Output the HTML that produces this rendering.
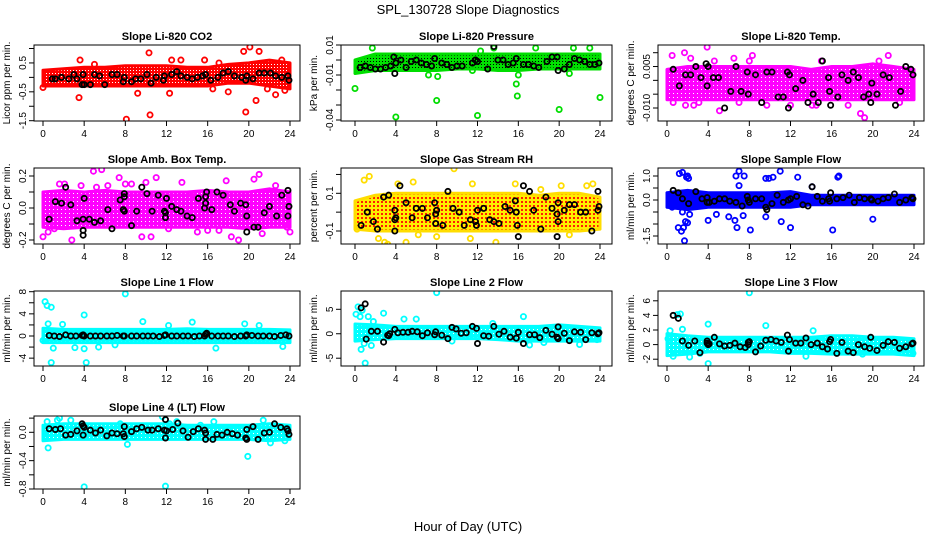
<!DOCTYPE html>
<html><head><meta charset="utf-8"><title>SPL_130728 Slope Diagnostics</title>
<style>
html,body{margin:0;padding:0;background:#fff;}
svg{display:block;font-family:"Liberation Sans",Arial,sans-serif;}
</style></head>
<body>
<svg id="chart" width="936" height="540" viewBox="0 0 936 540" xmlns="http://www.w3.org/2000/svg">
<defs>
<pattern id="pat-red" width="3" height="3" patternUnits="userSpaceOnUse"><rect width="3" height="3" fill="#ff0000"/><rect x="1" y="1" width="1" height="1" fill="#ffffff"/></pattern>
<pattern id="pat-green" width="3" height="3" patternUnits="userSpaceOnUse"><rect width="3" height="3" fill="#00e000"/><rect x="1" y="1" width="1" height="1" fill="#000000"/></pattern>
<pattern id="pat-magenta" width="4" height="4" patternUnits="userSpaceOnUse"><rect width="4" height="4" fill="#ff00ff"/><rect x="1" y="1" width="1" height="1" fill="#ffffff"/></pattern>
<pattern id="pat-yellow" width="4" height="4" patternUnits="userSpaceOnUse"><rect width="4" height="4" fill="#ffee00"/><rect x="1" y="1" width="2" height="2" fill="#ff2000"/></pattern>
<pattern id="pat-blue" width="4" height="4" patternUnits="userSpaceOnUse"><rect width="4" height="4" fill="#0000ff"/></pattern>
<pattern id="pat-cyan" width="4" height="4" patternUnits="userSpaceOnUse"><rect width="4" height="4" fill="#00ffff"/><rect x="1" y="1" width="1" height="1" fill="#ffffff"/></pattern>
</defs>
<text x="468" y="14" font-size="13" text-anchor="middle">SPL_130728  Slope Diagnostics</text>
<text x="468" y="531" font-size="13" text-anchor="middle">Hour of Day (UTC)</text>
</svg>
<script>
// ---- data (hours of day vs slope values) ----
const xTicks = [0,4,8,12,16,20,24];
const bandHours = [0,2,4,6,8,10,12,14,16,18,20,22,24];

const co2Lo = [-0.3,-0.3,-0.3,-0.3,-0.3,-0.3,-0.3,-0.3,-0.3,-0.2,-0.2,-0.3,-0.4];
const co2Hi = [0.25,0.3,0.35,0.35,0.4,0.4,0.4,0.35,0.35,0.45,0.5,0.6,0.5];
const co2OutX = [3.5,3.6,8.1,10.4,10.3,9.2,12.5,12.3,15.7,17.1,18,19.5,19.7,20.1,20.7,21,21.8,22.6,23.5,13.4,5,0,23.2,16.5];
const co2OutY = [-0.7,0.6,-1.45,-1.3,0.85,-0.55,0.6,-0.55,0.6,0.5,-0.5,0.9,-1.2,1.05,-0.8,0.9,-0.4,-0.6,-0.45,0.6,0.45,-0.35,0.6,-0.4];
const co2BlkX = [0.9,1.2,1.8,2.5,3.0,3.3,3.8,3.9,4.0,4.6,5.0,5.5,6.0,6.7,7.2,7.8,7.9,8.6,9.0,9.5,10.1,10.5,11.0,11.7,11.8,12.5,13.0,13.4,14.0,14.5,15.0,15.5,15.8,16.3,17.0,17.5,18.0,18.6,19.3,19.7,19.8,20.4,21.0,21.5,22.1,22.6,23.2,23.8,23.9];
const co2BlkY = [-0.05,-0.05,0.0,-0.05,0.1,-0.05,-0.25,0.1,-0.25,-0.25,0.1,0.05,-0.25,0.1,0.1,-0.15,0.0,-0.15,-0.05,-0.05,0.1,-0.2,0.0,-0.1,0.05,0.1,0.2,0.05,0.0,-0.05,0.0,0.05,0.1,-0.1,0.0,0.15,0.2,0.05,0.0,-0.1,0.05,-0.05,0.15,0.15,0.15,0.05,0.0,0.05,-0.1];

const presLo = [-0.009,-0.007,-0.007,-0.007,-0.007,-0.006,-0.006,-0.007,-0.007,-0.006,-0.006,-0.006,-0.006];
const presHi = [0.0,0.004,0.004,0.004,0.004,0.004,0.004,0.004,0.004,0.004,0.004,0.004,0.004];
const presOutX = [0,4,8,12,15.9,15.8,16,20,24,1.7,13.6,17.7,21.4,23,7.2,8.1,21,11.5,12.3];
const presOutY = [-0.019,-0.038,-0.027,-0.037,-0.024,-0.016,-0.01,-0.033,-0.025,0.008,0.008,0.008,0.008,0.008,-0.01,-0.011,-0.009,-0.007,0.006];
const presBlkX = [0.5,1.0,1.5,2.0,2.5,3.0,3.5,3.8,3.9,4.0,4.5,5.0,5.5,6.0,6.5,7.0,7.5,7.8,8.5,9.0,9.5,10.0,10.5,11.5,11.8,12.0,13.0,13.6,14.0,14.5,15.0,15.5,15.8,16.5,17.0,17.5,18.0,18.8,19.3,19.8,19.9,20.5,21.0,21.5,22.0,22.5,23.0,23.5,23.9];
const presBlkY = [-0.005,-0.004,-0.005,-0.006,-0.006,-0.005,-0.004,0.002,-0.009,-0.002,0.0,-0.005,-0.001,0.0,-0.002,-0.003,-0.004,0.001,-0.002,-0.003,-0.005,-0.004,-0.004,-0.002,0.0,-0.001,-0.006,0.009,0.0,0.0,-0.003,-0.002,0.001,-0.003,-0.003,-0.004,-0.005,-0.001,0.002,0.002,-0.007,-0.006,-0.003,0.001,0.0,-0.001,-0.003,-0.003,-0.002];

const tempLo = [-0.007,-0.007,-0.007,-0.007,-0.007,-0.007,-0.007,-0.007,-0.007,-0.007,-0.007,-0.007,-0.007];
const tempHi = [0.004,0.005,0.005,0.005,0.005,0.005,0.005,0.004,0.005,0.005,0.006,0.005,0.004];
const tempOutX = [0.5,1.7,2.3,3.9,4.6,6.5,8.3,8.0,15,21.5,20.6,1.8,2.6,5.1,9.7,14.1,14.5,17.6,18.8,19.2,0.6,3.1,22.6,12.0,7.0];
const tempOutY = [0.009,0.010,0.008,0.012,0.007,0.008,0.009,0.007,0.007,0.009,0.007,-0.009,-0.009,-0.011,-0.009,-0.009,-0.009,-0.009,-0.012,-0.0135,-0.008,-0.008,-0.008,-0.009,-0.008];
const tempBlkX = [0.6,1.2,1.8,2.3,2.8,3.3,3.8,3.9,4.0,4.5,5.0,5.6,6.2,6.7,7.2,7.8,7.9,8.6,9.2,9.7,10.2,10.8,11.3,11.7,11.8,11.9,12.5,13.2,13.7,14.2,14.7,15.1,15.7,15.8,15.9,16.6,17.0,17.6,18.1,18.6,19.1,19.6,19.8,19.9,20.4,21.0,21.6,22.2,22.7,23.2,23.7,23.9];
const tempBlkY = [0.004,-0.002,0.002,0.002,0.005,0.001,0.006,-0.002,0.005,0.001,0.001,-0.010,-0.004,0.005,-0.004,0.003,-0.005,0.002,-0.008,0.003,0.003,-0.006,-0.006,0.003,-0.010,0.002,-0.003,0.0,-0.008,-0.005,-0.008,0.007,0.001,-0.004,-0.009,-0.006,0.002,0.0,0.003,0.001,-0.006,-0.005,-0.008,-0.001,-0.005,0.002,0.001,-0.009,-0.004,0.005,0.004,0.002];

const ambLo = [-0.12,-0.13,-0.12,-0.12,-0.12,-0.12,-0.12,-0.12,-0.12,-0.12,-0.13,-0.12,-0.12];
const ambHi = [0.1,0.11,0.1,0.11,0.1,0.1,0.1,0.1,0.11,0.1,0.1,0.12,0.1];
const ambOutX = [0,0.5,1.1,1.6,2.1,2.8,3.7,4.9,5.2,5.7,6.3,7.4,8.0,8.6,9.6,10.0,10.5,11.0,12.2,13.5,15.0,16.0,17.1,17.8,18.3,19.0,21.0,21.3,22.6,23.7,24,14.5,6.8,20.5];
const ambOutY = [-0.18,-0.15,-0.13,0.15,0.15,-0.2,0.14,0.23,0.13,0.24,0.14,0.19,0.15,0.15,-0.18,0.16,-0.18,0.19,-0.13,0.16,-0.15,-0.14,-0.14,0.17,-0.18,-0.2,0.21,-0.16,0.14,-0.12,-0.15,0.08,-0.1,0.18];
const ambBlkX = [2.2,0.6,1.2,1.8,2.7,3.3,3.9,3.9,4.0,3.9,4.5,5.0,5.6,6.3,6.7,7.5,7.9,7.9,7.8,7.9,8.6,9.1,9.6,10.1,10.6,11.2,11.8,11.9,12.0,11.9,12.5,13.0,13.4,14.0,14.5,15.1,15.7,15.8,15.9,15.8,16.4,16.9,17.5,18.2,18.6,19.2,19.7,19.8,19.8,20.5,20.9,21.5,22.0,22.7,23.2,23.8,23.9,23.8];
const ambBlkY = [0.13,-0.07,0.04,0.03,0.02,-0.08,-0.14,-0.17,0.06,-0.07,-0.07,-0.09,-0.08,-0.01,-0.13,0.05,0.09,0.07,-0.01,-0.02,-0.11,-0.02,0.13,0.09,-0.02,0.08,-0.02,-0.03,0.06,-0.06,0.01,-0.01,-0.02,-0.05,-0.06,0.06,0.0,0.03,0.1,0.07,-0.01,0.1,0.08,0.02,-0.02,0.03,0.02,-0.05,-0.15,-0.12,-0.12,-0.03,0.01,-0.05,0.08,0.11,0.01,-0.05];

const rhLo = [-0.09,-0.1,-0.1,-0.1,-0.1,-0.1,-0.1,-0.1,-0.1,-0.1,-0.1,-0.1,-0.09];
const rhHi = [0.06,0.09,0.1,0.1,0.1,0.1,0.1,0.1,0.1,0.09,0.1,0.1,0.08];
const rhOutX = [0.9,1.4,2.9,3.2,4.2,5.0,5.7,6.2,8.0,9.7,11.3,11.5,13.8,15.7,18.2,20.2,22.7,23.3,2.3,21.0,0.2];
const rhOutY = [0.17,0.19,-0.16,-0.17,0.15,-0.16,0.16,-0.12,-0.13,0.23,-0.14,0.15,-0.16,0.15,0.12,0.14,0.14,0.15,-0.14,-0.12,-0.09];
const rhBlkX = [0.6,1.2,1.8,2.2,2.8,3.3,3.9,3.9,4.0,3.9,4.4,5.0,5.6,6.0,6.6,7.1,7.8,7.9,8.0,7.9,8.6,9.1,9.6,10.2,10.7,11.3,11.8,11.9,12.0,12.6,13.2,13.6,14.1,14.7,15.2,15.7,15.8,15.9,16.0,16.5,17.1,17.5,18.2,18.7,19.3,19.8,19.9,19.9,19.8,20.5,21.0,21.5,22.1,22.6,23.2,23.8,23.9,23.8];
const rhBlkY = [-0.07,0.0,-0.05,-0.09,0.08,0.09,-0.1,-0.04,-0.03,0.01,0.14,0.05,-0.03,0.02,0.02,-0.03,0.05,-0.01,0.01,-0.06,-0.07,0.11,0.02,0.0,-0.07,-0.04,-0.05,-0.07,0.01,0.02,-0.04,-0.05,-0.06,0.03,0.01,0.06,0.0,-0.07,-0.13,0.14,0.11,0.01,-0.09,0.08,0.02,-0.01,0.05,-0.05,-0.13,0.01,0.04,0.04,0.0,0.0,-0.1,0.11,0.03,0.01];

const flowLo = [-0.3,-0.4,-0.3,-0.3,-0.3,-0.3,-0.3,-0.2,-0.2,-0.2,-0.2,-0.2,-0.2];
const flowHi = [0.3,0.4,0.3,0.3,0.3,0.3,0.35,0.2,0.2,0.2,0.2,0.2,0.2];
const flowOutX = [1.2,1.5,1.9,2.0,2.1,1.1,1.4,1.6,1.7,1.8,2.0,1.5,2.2,4.0,4.8,6.0,6.6,6.8,7.0,6.7,7.5,7.4,8.1,9.6,9.9,10.3,11.0,11.1,9.6,12.0,12.7,16.1,16.6,16.7,20.0,7.0,14.1,0.5];
const flowOutY = [1.1,1.15,0.95,1.0,0.9,-1.15,-1.3,-1.15,-1.7,-0.9,-0.95,-0.5,-0.6,-0.85,-0.6,-0.7,-0.85,-1.15,1.2,1.0,1.0,-0.65,-1.25,0.9,0.9,0.95,1.2,-0.9,-0.7,-1.15,0.95,-1.25,0.95,1.0,-0.8,0.6,0.55,-0.3];
const flowBlkX = [0.6,1.1,1.5,2.1,2.8,3.4,3.9,3.9,4.1,4.6,5.1,5.6,6.1,6.7,7.3,7.8,7.9,8.0,8.6,9.2,9.6,9.7,10.2,10.7,11.3,11.8,12.0,12.6,13.2,13.7,14.1,14.6,15.1,15.7,15.9,15.8,16.5,17.1,17.7,18.2,18.7,19.2,19.8,19.9,20.5,21.0,21.5,22.1,22.6,23.2,23.8,23.9];
const flowBlkY = [0.4,0.3,0.05,-0.15,0.35,0.05,0.1,-0.1,-0.1,-0.05,0.05,0.05,-0.05,-0.1,-0.25,0.15,0.0,-0.1,0.05,0.05,-0.3,-0.4,-0.15,0.2,-0.1,0.0,0.05,0.15,-0.2,-0.25,0.55,0.15,-0.05,0.05,0.3,-0.05,0.05,0.1,0.2,-0.1,0.1,0.05,0.05,0.0,-0.05,0.05,0.1,0.25,-0.1,0.0,0.1,0.05];

const l1Lo = [-1.2,-1.2,-1.2,-1.2,-1.2,-1.2,-1.2,-1.2,-1.2,-1.2,-1.2,-1.2,-1.2];
const l1Hi = [1.4,1.2,1.2,1.2,1.2,1.2,1.2,1.3,1.2,1.2,1.2,1.2,1.1];
const l1OutX = [0.2,0.4,0.8,0.8,4.0,4.2,8.0,0.5,1.9,9.7,14.5,19.6,1.0,3.1,4.0,5.4,16.8,23.3,0.0,7.0,12.2,21.0];
const l1OutY = [6.2,5.5,5.2,-4.8,3.8,-4.8,7.6,2.2,2.1,2.6,2.5,2.2,-2.2,-2.1,-2.3,-2.0,-2.2,-1.9,-0.8,-1.6,1.9,1.9];
const l1BlkX = [0.6,1.1,1.6,2.2,2.7,3.2,3.8,3.9,4.0,4.6,5.1,5.6,6.2,6.7,7.2,7.8,7.9,8.6,9.1,9.7,10.2,10.7,11.3,11.8,11.9,12.5,13.0,13.6,14.1,14.7,15.2,15.7,15.8,15.9,16.4,17.0,17.5,18.0,18.6,19.2,19.7,19.8,20.3,20.9,21.4,22.0,22.5,23.1,23.6,23.9];
const l1BlkY = [0.1,0.0,-0.1,0.2,0.0,0.0,0.1,0.2,0.0,0.0,0.0,0.0,0.0,0.0,0.1,0.0,0.0,0.0,0.0,0.0,0.0,0.0,-0.1,0.1,0.2,0.0,0.0,0.0,0.0,-0.1,0.0,0.0,0.3,0.5,0.0,0.0,0.0,0.0,-0.1,0.0,0.0,0.2,0.1,0.0,0.0,0.0,-0.1,0.1,0.2,0.0];

const l2Lo = [-1.5,-1.2,-1.0,-1.0,-1.0,-1.0,-1.0,-1.2,-1.5,-1.5,-1.5,-1.5,-1.5];
const l2Hi = [2.0,1.8,1.5,1.5,1.5,1.5,1.5,1.5,1.5,1.5,1.8,1.5,1.2];
const l2OutX = [0.1,0.3,0.5,0.6,0.7,1.0,1.3,1.6,1.8,2.8,4.8,6.0,8.0,9.5,16.5,17.1,22.0,18.5,23.7,0.9,13.5];
const l2OutY = [4,5.5,3.5,-3.2,4.8,-6,3.5,-2.4,2.5,4.2,3,3,8.4,-1.5,3.5,-2.3,-2.2,-1.8,-1.2,-2,2.1];
const l2BlkX = [0.6,1.0,1.1,1.6,2.2,2.8,3.2,3.3,3.4,3.9,4.2,4.7,5.2,5.6,6.1,6.6,7.1,7.8,7.9,8.5,9.1,9.5,9.9,10.4,10.9,11.5,11.9,12.0,12.6,13.1,13.6,14.1,14.6,15.2,15.8,16.0,16.5,17.1,17.6,18.1,18.7,19.3,19.8,19.9,19.9,20.5,21.0,21.5,22.1,22.6,23.2,23.8,23.9];
const l2BlkY = [5.3,6.1,-1.1,0.5,0.5,-1.7,-0.3,-0.4,0.0,0.9,0.2,0.3,0.3,0.5,0.4,-0.4,0.2,-0.2,0.4,-0.3,-1.0,1.3,1.0,0.1,0.2,1.5,1.1,-2.0,-0.4,-0.5,1.5,-0.1,0.5,-0.7,-0.9,0.3,-2.0,-0.2,-0.2,-0.8,0.7,-0.1,-0.7,-1.0,1.4,0.1,-1.4,0.4,0.3,-1.2,0.2,0.0,0.2];

const l3Lo = [-1.5,-1.3,-1.0,-1.0,-1.0,-1.0,-1.2,-1.2,-1.3,-1.3,-1.3,-1.3,-1.5];
const l3Hi = [1.5,1.2,1.0,1.0,1.0,1.0,1.0,1.0,1.2,1.2,1.0,1.0,0.8];
const l3OutX = [0.3,0.6,1.0,1.3,1.5,2.2,4.0,4.0,8.0,9.6,13.5,14.2,19.0,23.9,0.1,3.2];
const l3OutY = [1.9,-1.6,4.1,4.2,2.1,-1.7,2.8,-2.6,7.1,2.6,-1.6,1.9,-1.3,-1.2,0.8,-1.2];
const l3BlkX = [0.6,1.1,1.5,2.1,2.7,3.2,3.9,3.9,4.0,4.1,4.6,5.1,5.6,6.1,6.6,7.1,7.6,7.9,7.9,8.0,8.6,9.1,9.6,10.1,10.6,11.1,11.7,11.8,11.9,12.5,13.0,13.5,14.0,14.6,15.1,15.6,15.8,15.9,16.5,17.0,17.6,18.1,18.6,19.2,19.7,19.8,20.4,21.0,21.5,22.1,22.6,23.2,23.8,23.9];
const l3BlkY = [4.0,3.6,0.5,-0.1,0.5,-1.1,0.5,0.2,0.0,0.1,1.0,0.1,-0.2,-0.1,0.2,-0.3,-0.4,0.0,0.3,0.4,-1.0,-0.2,0.6,0.7,0.5,0.3,1.3,-0.9,0.7,0.2,0.2,0.9,0.0,0.2,-0.3,-0.6,0.4,0.7,-1.2,0.3,-0.9,-1.1,0.0,-0.3,-0.5,1.0,-0.8,-0.1,0.4,0.3,-0.5,-0.3,0.1,0.2];

const l4Lo = [-0.12,-0.1,-0.1,-0.1,-0.1,-0.1,-0.1,-0.1,-0.1,-0.1,-0.1,-0.12,-0.1];
const l4Hi = [0.1,0.12,0.12,0.12,0.12,0.12,0.12,0.1,0.1,0.1,0.1,0.12,0.1];
const l4OutX = [0.5,0.4,1.4,1.6,2.7,4.0,7.5,11.6,11.9,12.3,13.0,15.3,16.6,19.9,21.4,22.1,0.2,8.2,23.5];
const l4OutY = [-0.22,0.15,0.17,0.2,0.17,-0.77,0.12,0.22,-0.76,0.12,0.15,0.1,0.15,-0.34,0.17,-0.15,-0.05,-0.17,-0.12];
const l4BlkX = [0.6,1.2,1.7,2.2,2.7,3.3,3.8,3.9,3.9,4.0,4.6,5.1,5.6,6.2,6.7,7.2,7.8,7.9,7.9,8.6,9.1,9.6,10.2,10.6,11.2,11.8,11.9,12.0,11.9,12.6,13.1,13.6,14.1,14.6,15.1,15.7,15.8,15.8,16.5,16.9,17.4,17.9,18.4,18.9,19.7,19.8,19.8,20.4,20.9,21.5,22.0,22.5,23.1,23.7,23.8,23.9];
const l4BlkY = [0.05,0.04,0.05,-0.04,-0.03,0.02,0.12,0.09,-0.04,0.07,0.03,-0.01,0.03,-0.05,-0.01,-0.02,-0.02,0.08,-0.06,0.01,0.05,0.07,0.03,0.03,0.05,0.03,-0.08,0.02,0.18,0.04,0.13,0.02,-0.07,0.01,0.05,0.03,-0.01,-0.1,-0.1,-0.03,-0.04,0.0,-0.02,-0.04,-0.08,-0.1,0.04,0.08,-0.1,-0.01,0.0,0.12,0.07,0.05,0.02,-0.03];

// ---- layout ----
const NS = "http://www.w3.org/2000/svg";
const svg = document.getElementById('chart');
const cols = [{L:34,R:300,x0:43,x24:290},{L:341,R:612,x0:355,x24:600},{L:658,R:924,x0:667,x24:914}];
const rows = [{T:45,B:121},{T:168,B:244},{T:291,B:366},{T:416,B:489}];

const panels = [
 {key:'co2',title:'Slope Li-820 CO2',ylab:'Licor ppm per min.',c:0,r:0,ref:[1.0,48.5,-1.5,120.7],ticks:[1,0.5,0,-0.5,-1,-1.5],labs:{'0.5':'0.5','-0.5':'-0.5','-1.5':'-1.5'},col:'#ff0000',pat:'pat-red',lo:co2Lo,hi:co2Hi,ox:co2OutX,oy:co2OutY,bx:co2BlkX,by:co2BlkY},
 {key:'pressure',title:'Slope Li-820 Pressure',ylab:'kPa per min.',c:1,r:0,ref:[0.01,45,-0.04,120],ticks:[0.01,0,-0.01,-0.02,-0.03,-0.04],labs:{'0.01':'0.01','-0.01':'-0.01','-0.04':'-0.04'},col:'#00dd00',pat:'pat-green',lo:presLo,hi:presHi,ox:presOutX,oy:presOutY,bx:presBlkX,by:presBlkY},
 {key:'li820-temp',title:'Slope Li-820 Temp.',ylab:'degrees C per min.',c:2,r:0,ref:[0.010,52.7,-0.010,108],ticks:[0.010,0.005,0,-0.005,-0.010],labs:{'0.005':'0.005','-0.01':'-0.010'},col:'#ff00ff',pat:'pat-magenta',lo:tempLo,hi:tempHi,ox:tempOutX,oy:tempOutY,bx:tempBlkX,by:tempBlkY},
 {key:'amb-box-temp',title:'Slope Amb. Box Temp.',ylab:'degrees C per min.',c:0,r:1,ref:[0.2,176,-0.2,240],ticks:[0.2,0.1,0,-0.1,-0.2],labs:{'0.2':'0.2','0':'0.0','-0.2':'-0.2'},col:'#ff00ff',pat:'pat-magenta',lo:ambLo,hi:ambHi,ox:ambOutX,oy:ambOutY,bx:ambBlkX,by:ambBlkY},
 {key:'gas-stream-rh',title:'Slope Gas Stream RH',ylab:'percent per min.',c:1,r:1,ref:[0.1,193.3,-0.1,231],ticks:[0.2,0.1,0,-0.1],labs:{'0.1':'0.1','-0.1':'-0.1'},col:'#ffdd00',pat:'pat-yellow',lo:rhLo,hi:rhHi,ox:rhOutX,oy:rhOutY,bx:rhBlkX,by:rhBlkY},
 {key:'sample-flow',title:'Slope Sample Flow',ylab:'ml/min per min.',c:2,r:1,ref:[1.0,176,0,200],ticks:[1,0.5,0,-0.5,-1,-1.5],labs:{'1':'1.0','0':'0.0','-1.5':'-1.5'},col:'#0000ff',pat:'pat-blue',lo:flowLo,hi:flowHi,ox:flowOutX,oy:flowOutY,bx:flowBlkX,by:flowBlkY},
 {key:'line1-flow',title:'Slope Line 1 Flow',ylab:'ml/min per min.',c:0,r:2,ref:[8,291.7,0,336],ticks:[8,6,4,2,0,-2,-4],labs:{'8':'8','4':'4','0':'0','-4':'-4'},col:'#00ffff',pat:'pat-cyan',lo:l1Lo,hi:l1Hi,ox:l1OutX,oy:l1OutY,bx:l1BlkX,by:l1BlkY},
 {key:'line2-flow',title:'Slope Line 2 Flow',ylab:'ml/min per min.',c:1,r:2,ref:[5,309.3,-5,358.2],ticks:[5,0,-5],labs:{'5':'5','0':'0','-5':'-5'},col:'#00ffff',pat:'pat-cyan',lo:l2Lo,hi:l2Hi,ox:l2OutX,oy:l2OutY,bx:l2BlkX,by:l2BlkY},
 {key:'line3-flow',title:'Slope Line 3 Flow',ylab:'ml/min per min.',c:2,r:2,ref:[6,300.8,-2,359.2],ticks:[6,4,2,0,-2],labs:{'6':'6','4':'4','2':'2','0':'0','-2':'-2'},col:'#00ffff',pat:'pat-cyan',lo:l3Lo,hi:l3Hi,ox:l3OutX,oy:l3OutY,bx:l3BlkX,by:l3BlkY},
 {key:'line4-flow',title:'Slope Line 4 (LT) Flow',ylab:'ml/min per min.',c:0,r:3,ref:[0,432.3,-0.8,489],ticks:[0.2,0,-0.2,-0.4,-0.6,-0.8],labs:{'0':'0.0','-0.4':'-0.4','-0.8':'-0.8'},col:'#00ffff',pat:'pat-cyan',lo:l4Lo,hi:l4Hi,ox:l4OutX,oy:l4OutY,bx:l4BlkX,by:l4BlkY}
];

function mk(tag, attrs, parent){
  const e = document.createElementNS(NS, tag);
  for (const k in attrs) e.setAttribute(k, attrs[k]);
  parent.appendChild(e);
  return e;
}

panels.forEach(p => {
  const C = cols[p.c], R = rows[p.r];
  const xS = h => C.x0 + (C.x24 - C.x0) * h / 24;
  const [v1, p1, v2, p2] = p.ref;
  const yS = v => p1 + (v - v1) * (p2 - p1) / (v2 - v1);
  const g = mk('g', {}, svg);
  
  
  const clipId = 'clip-' + p.key;
  const cp = mk('clipPath', {id: clipId}, g);
  mk('rect', {x: C.L, y: R.T, width: C.R - C.L, height: R.B - R.T}, cp);

  const t = mk('text', {x: (C.L + C.R) / 2, y: R.T - 5, 'font-size': 11, 'font-weight': 'bold', 'text-anchor': 'middle'}, g);
  t.textContent = p.title;
  
  

  const yl = mk('text', {x: 0, y: 0, 'font-size': 10, 'text-anchor': 'middle', transform: `translate(${C.L - 24},${(R.T + R.B) / 2}) rotate(-90)`}, g);
  yl.textContent = p.ylab;
  
  

  const plot = mk('g', {'clip-path': `url(#${clipId})`}, g);
  
  

  // dense cloud band
  let d = '';
  bandHours.forEach((h, i) => { d += (i ? 'L' : 'M') + xS(h).toFixed(1) + ',' + yS(p.hi[i]).toFixed(1); });
  for (let i = bandHours.length - 1; i >= 0; i--) d += 'L' + xS(bandHours[i]).toFixed(1) + ',' + yS(p.lo[i]).toFixed(1);
  d += 'Z';
  const band = mk('path', {d: d, fill: `url(#${p.pat})`, stroke: p.col, 'stroke-width': 3, 'stroke-linejoin': 'round'}, plot);
  
  

  p.ox.forEach((h, i) => {
    const c = mk('circle', {cx: xS(h), cy: yS(p.oy[i]), r: 2.6, fill: 'none', stroke: p.col, 'stroke-width': 1.8}, plot);
    
    
  });
  p.bx.forEach((h, i) => {
    const c = mk('circle', {cx: xS(h), cy: yS(p.by[i]), r: 2.6, fill: 'none', stroke: '#000', 'stroke-width': 1.8}, plot);
    
    
  });

  const box = mk('rect', {x: C.L, y: R.T, width: C.R - C.L, height: R.B - R.T, fill: 'none', stroke: '#000', 'stroke-width': 1}, g);
  
  

  xTicks.forEach(h => {
    mk('line', {x1: xS(h), x2: xS(h), y1: R.B, y2: R.B + 5, stroke: '#000', 'stroke-width': 1}, g);
    const tl = mk('text', {x: xS(h), y: R.B + 16, 'font-size': 10, 'text-anchor': 'middle'}, g);
    tl.textContent = h;
    
    
  });
  p.ticks.forEach(v => {
    const y = yS(v);
    if (y < R.T - 0.5 || y > R.B + 1.5) return;
    mk('line', {x1: C.L - 5, x2: C.L, y1: y, y2: y, stroke: '#000', 'stroke-width': 1}, g);
    const key = String(+v.toFixed(4));
    if (p.labs[key] !== undefined) {
      const tl = mk('text', {x: 0, y: 0, 'font-size': 10, 'text-anchor': 'middle', transform: `translate(${C.L - 8},${y}) rotate(-90)`}, g);
      tl.textContent = p.labs[key];
      
      
    }
  });
});
</script>
</body></html>
